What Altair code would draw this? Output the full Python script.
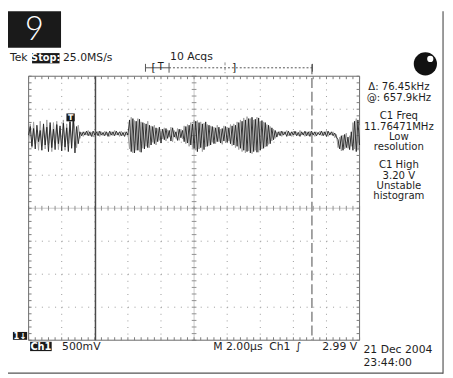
import altair as alt
import pandas as pd

VOLTS_PER_DIV = 0.5          # Ch1 500mV
US_PER_DIV = 2.0             # M 2.00µs
GROUND_DIV = -3.884          # Ch1 ground marker, divisions from centre
TRACE_T0_US, TRACE_T1_US = 0.0, 20.0
CURSOR_TIMES_US = [4.04, 17.12]   # Δ 13.08 µs -> 76.45 kHz

# Ch1 trace, volts (darker, latest acquisition)
black_v = [
    3.05, 3.18, 2.88, 3.15, 2.84, 3.20, 2.95, 3.12, 2.82, 3.22, 2.90, 3.17, 2.80, 3.24, 2.86, 3.14, 2.83, 3.21, 2.92, 3.19, 2.81, 3.23, 2.87, 3.16, 2.80, 3.25, 2.85,
    3.30, 2.78, 3.18, 2.92, 3.10,
    3.04, 3.10, 3.05, 3.11, 3.04, 3.10, 3.03, 3.11, 3.05, 3.10, 3.04, 3.11, 3.05, 3.09, 3.04, 3.10, 3.03, 3.11, 3.05, 3.10, 3.04, 3.11, 3.05, 3.10, 3.04, 3.09, 3.03, 3.10, 3.05,
    3.28, 2.80, 3.30, 2.78, 3.26, 2.82, 3.29, 2.79, 3.24, 2.84, 3.22, 2.86, 3.20, 2.90, 3.18, 2.92, 3.16, 2.95, 3.17, 2.93,
    3.14, 2.98, 3.15, 3.00, 3.12, 2.96, 3.16, 3.02, 3.10, 2.97, 3.14, 3.01, 3.12, 2.95, 3.18, 2.93, 3.20, 2.90, 3.22,
    2.85, 3.26, 2.80, 3.24, 2.86, 3.22, 2.83, 3.25, 2.88, 3.20, 2.90, 3.18, 2.92, 3.16, 2.95, 3.17, 2.93, 3.15, 2.96, 3.18, 2.94, 3.16, 2.92, 3.19, 2.90, 3.20,
    2.88, 3.24, 2.85, 3.26, 2.82, 3.28, 2.80, 3.30, 2.78, 3.32, 2.80, 3.29, 2.79, 3.31, 2.82, 3.27, 2.85, 3.24, 2.88, 3.20, 2.92, 3.16, 2.98, 3.12, 3.02,
    3.10, 3.04, 3.11, 3.05, 3.10, 3.03, 3.11, 3.04, 3.10, 3.05, 3.11, 3.04, 3.09, 3.03, 3.10, 3.05, 3.11, 3.04, 3.10, 3.03, 3.11, 3.05, 3.10, 3.04, 3.09, 3.05, 3.11, 3.04, 3.10, 3.03, 3.11, 3.05, 3.10, 3.04, 3.08, 3.02,
    2.98, 2.84, 3.04, 2.82, 3.06, 2.86, 3.02, 2.83, 3.10,
    2.82, 3.26, 2.80, 3.28, 2.90,
]
# Ch1 trace, volts (grey, accumulated acquisitions)
gray_v = [
    2.95, 3.22, 2.86, 3.25, 2.92, 3.12, 2.82, 3.26, 2.88, 3.18, 2.84, 3.28, 2.90, 3.20, 2.80, 3.24, 2.94, 3.26, 2.83, 3.16, 2.89, 3.28, 2.82, 3.22, 2.92, 3.30, 2.88,
    3.36, 3.10, 2.86, 3.20, 3.00,
    3.09, 3.03, 3.10, 3.05, 3.12, 3.04, 3.09, 3.02, 3.10, 3.05, 3.11, 3.03, 3.10, 3.04, 3.11, 3.05, 3.09, 3.03, 3.10, 3.04, 3.12, 3.05, 3.09, 3.03, 3.11, 3.04, 3.10, 3.05, 3.08,
    2.84, 3.32, 2.78, 3.27, 2.82, 3.30, 2.80, 3.25, 2.85, 3.23, 2.88, 3.26, 2.86, 3.19, 2.94, 3.20, 2.90, 3.15, 2.97, 3.12,
    2.99, 3.16, 2.96, 3.13, 3.02, 3.17, 2.95, 3.12, 3.00, 3.15, 2.97, 3.14, 2.99, 3.19, 2.92, 3.21, 2.88, 3.24, 2.86,
    3.28, 2.82, 3.27, 2.84, 3.25, 2.80, 3.23, 2.87, 3.21, 2.89, 3.19, 2.94, 3.17, 2.92, 3.20, 2.95, 3.14, 2.91, 3.19, 2.93, 3.17, 2.96, 3.21, 2.89, 3.22, 2.86,
    3.25, 2.83, 3.28, 2.80, 3.31, 2.78, 3.33, 2.81, 3.30, 2.77, 3.28, 2.82, 3.32, 2.79, 3.26, 2.84, 3.25, 2.87, 3.21, 2.91, 3.18, 2.96, 3.14, 3.00, 3.10,
    3.05, 3.11, 3.03, 3.10, 3.06, 3.12, 3.04, 3.09, 3.03, 3.11, 3.05, 3.10, 3.04, 3.12, 3.05, 3.09, 3.03, 3.10, 3.04, 3.11, 3.05, 3.09, 3.03, 3.10, 3.06, 3.11, 3.04, 3.10, 3.05, 3.12, 3.03, 3.09, 3.05, 3.10, 3.01, 3.06,
    2.86, 3.02, 2.81, 3.05, 2.84, 3.08, 2.85, 3.04, 2.88,
    3.24, 2.84, 3.30, 2.82, 3.20,
]

right_panel = [
    ("Δ: 76.45kHz", 85.5), ("@: 657.9kHz", 96.5),
    ("C1 Freq", 115), ("11.76471MHz", 125.5), ("Low", 136), ("resolution", 146.5),
    ("C1 High", 165), ("3.20 V", 175.5), ("Unstable", 186), ("histogram", 196.5),
]

# ---------------- layout (page pixels) ----------------
GX0, GX1 = 29.0, 366.0
GY_C = 208.5
PXD_X = (GX1 - GX0) / 10.0
PXD_Y = 33.6
W, H = 445, 370
FONT = "DejaVu Sans"


def X(px):
    return (px - GX0) / PXD_X


def Y(py):
    return (GY_C - py) / PXD_Y


xs = alt.Scale(domain=[X(8), X(8 + W)], nice=False, zero=False)
ys = alt.Scale(domain=[Y(8 + H), Y(8)], nice=False, zero=False)


def enc_xy(ch):
    return ch.encode(x=alt.X("x:Q", scale=xs, axis=None), y=alt.Y("y:Q", scale=ys, axis=None))


def rules(rows, color, width=1.0, dash=None):
    df = pd.DataFrame(rows, columns=["x", "x2", "y", "y2"])
    kw = dict(color=color, strokeWidth=width)
    if dash:
        kw["strokeDash"] = dash
    return alt.Chart(df).mark_rule(**kw).encode(
        x=alt.X("x:Q", scale=xs, axis=None), x2="x2:Q",
        y=alt.Y("y:Q", scale=ys, axis=None), y2="y2:Q")


def rect(px0, py0, px1, py1, color="#1a1a1a"):
    df = pd.DataFrame({"x": [X(px0)], "x2": [X(px1)], "y": [Y(py0)], "y2": [Y(py1)]})
    return alt.Chart(df).mark_rect(color=color).encode(
        x=alt.X("x:Q", scale=xs, axis=None), x2="x2:Q",
        y=alt.Y("y:Q", scale=ys, axis=None), y2="y2:Q")


def text(label, px, py, size=10.5, color="#1e1e1e", align="left", weight="normal", font=FONT):
    df = pd.DataFrame({"x": [X(px)], "y": [Y(py)], "t": [label]})
    return enc_xy(alt.Chart(df).mark_text(
        align=align, baseline="middle", fontSize=size, color=color,
        fontWeight=weight, font=font)).encode(text="t:N")


layers = []

# ---- graticule ----
minor_x = [k * 0.2 for k in range(51)]
minor_y = [-4 + k * 0.2 for k in range(41)]
tl_x = 3.0 / PXD_X
tl_y = 3.0 / PXD_Y

# dotted division lines
rows_dot = [(0, 10, j, j) for j in (-3, -2, -1, 1, 2, 3)]
cols_dot = [(i, i, 4, -4) for i in (1, 2, 3, 4, 6, 7, 8, 9)]
layers.append(rules(rows_dot, "#999999", 1.0, [1, 5.74]))
layers.append(rules(cols_dot, "#999999", 1.0, [1, 5.72]))

# centre cross
layers.append(rules([(0, 10, 0, 0), (5, 5, 4, -4)], "#c8c8c8", 1.0))
layers.append(rules([(x, x, -tl_y * 0.8, tl_y * 0.8) for x in minor_x], "#909090", 1.0))
layers.append(rules([(5 - tl_x * 0.8, 5 + tl_x * 0.8, y, y) for y in minor_y], "#909090", 1.0))

# border with inward ticks
layers.append(rules([(0, 10, 4, 4), (0, 10, -4, -4), (0, 0, 4, -4), (10, 10, 4, -4)], "#6a6a6a", 1.0))
border_ticks = (
    [(x, x, 4, 4 - tl_y) for x in minor_x]
    + [(x, x, -4, -4 + tl_y) for x in minor_x]
    + [(0, tl_x, y, y) for y in minor_y]
    + [(10 - tl_x, 10, y, y) for y in minor_y]
)
layers.append(rules(border_ticks, "#7a7a7a", 1.0))

# cursors
c1, c2 = [t / US_PER_DIV for t in CURSOR_TIMES_US]
layers.append(rules([(c1, c1, 4, -4)], "#4a4a4a", 1.5))
layers.append(rules([(c2, c2, Y(62), -4)], "#9a9a9a", 1.8, [10, 4]))

# ---- traces ----
def trace_df(vals):
    n = len(vals)
    dt = (TRACE_T1_US - TRACE_T0_US) / (n - 1)
    return pd.DataFrame({
        "x": [(TRACE_T0_US + i * dt) / US_PER_DIV for i in range(n)],
        "y": [v / VOLTS_PER_DIV + GROUND_DIV for v in vals],
    })

layers.append(enc_xy(alt.Chart(trace_df(gray_v)).mark_line(color="#a0a0a0", strokeWidth=1.0)))
layers.append(enc_xy(alt.Chart(trace_df(black_v)).mark_line(color="#202020", strokeWidth=0.9)))

# trigger point marker
layers.append(rect(67.5, 112, 76, 120))
layers.append(text("T", 71.8, 116.3, size=8, color="white", align="center", weight="bold"))

# ---- header ----
layers.append(rect(8, 8, 62, 45))
layers.append(text("9", 35, 27.5, size=33, color="white", align="center", weight=300, font="Lato"))
layers.append(text("Tek", 10, 56, size=11))
layers.append(rect(32.5, 50.5, 60.5, 61))
layers.append(text("Stop:", 46.5, 56, color="white", weight="bold", size=10, align="center"))
layers.append(text("25.0MS/s", 64, 56, size=11))
layers.append(text("10 Acqs", 173, 55, size=11))

# record-position bracket
layers.append(rules([(X(148), X(172), Y(65.5), Y(65.5))], "#555555", 1.0))
layers.append(rules([(X(172), X(318), Y(65.5), Y(65.5))], "#555555", 1.0, [2, 2]))
layers.append(rules([(X(148), X(148), Y(61.5), Y(69.5)), (X(172), X(172), Y(60.5), Y(70.5)),
                     (X(318), X(318), Y(61.5), Y(69.5))], "#555555", 1.0))
layers.append(rules([(X(229), X(229), Y(60), Y(71))], "#888888", 1.0, [3, 2]))
layers.append(text("[", 154, 65.5, size=11))
layers.append(text("T", 160.5, 65, size=10))
layers.append(text("]", 236, 65.5, size=11))

# status lamp
lamp = pd.DataFrame({"x": [X(433)], "y": [Y(61.5)]})
layers.append(enc_xy(alt.Chart(lamp).mark_point(filled=True, shape="circle", size=560, color="#111111", opacity=1)))
hl = pd.DataFrame({"x": [X(438)], "y": [Y(56.5)]})
layers.append(enc_xy(alt.Chart(hl).mark_point(filled=True, shape="circle", size=40, color="white", opacity=1)))

# ---- right measurement panel ----
for label, py in right_panel:
    layers.append(text(label, 406, py, size=10.3, align="center"))

# ---- footer ----
layers.append(rect(13, 334.5, 27.5, 342.5))
layers.append(text("1↓", 20.2, 338.7, size=8.5, color="white", align="center", weight="bold"))
layers.append(rect(30.5, 344.5, 52.5, 354))
layers.append(text("Ch1", 41.5, 349.5, size=10, color="white", align="center", weight="bold"))
layers.append(text("500mV", 63, 349.5, size=11))
layers.append(text("M 2.00µs", 217, 349.5, size=11))
layers.append(text("Ch1", 274, 349.5, size=11))
layers.append(text("∫", 301, 349.5, size=11))
layers.append(text("2.99 V", 328, 349.5, size=11))
layers.append(text("21 Dec 2004", 370, 352.5, size=11))
layers.append(text("23:44:00", 370, 366, size=11))

# outer frame (right / bottom edges visible in the window)
layers.append(rules([(X(451), X(451), Y(8), Y(377)), (X(8), X(451), Y(376.5), Y(376.5))], "#555555", 1.2))

chart = alt.layer(*layers).properties(
    width=W, height=H, padding=0, autosize=alt.AutoSizeParams(type="none"),
    background="white",
).configure_view(stroke=None)

chart.save("out.html", embed_options={"renderer": "svg", "actions": False})
